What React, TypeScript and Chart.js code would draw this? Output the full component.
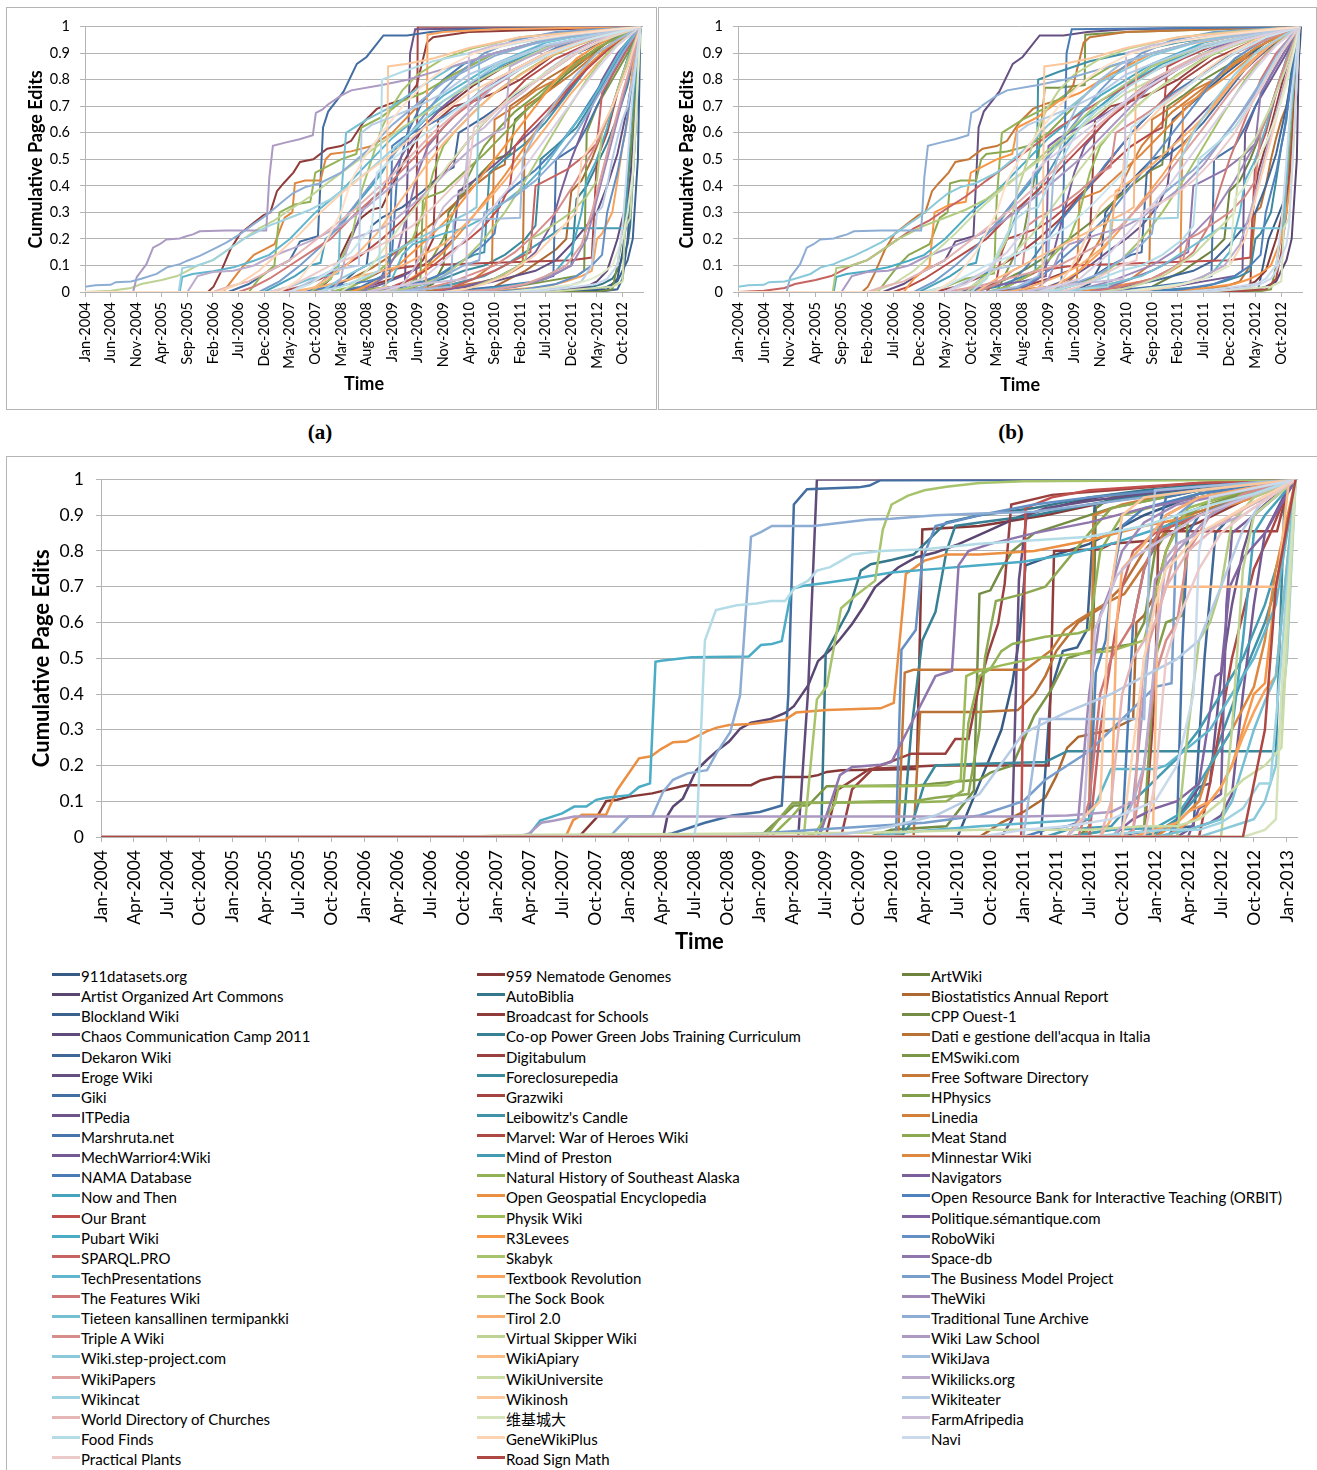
import { useEffect, useRef } from 'react';
import { Chart, registerables } from 'chart.js';
Chart.register(...registerables);

// ---------------- tick labels ----------------
const AB_TICK_LABELS = ['Jan-2004','Jun-2004','Nov-2004','Apr-2005','Sep-2005','Feb-2006','Jul-2006','Dec-2006','May-2007','Oct-2007','Mar-2008','Aug-2008','Jan-2009','Jun-2009','Nov-2009','Apr-2010','Sep-2010','Feb-2011','Jul-2011','Dec-2011','May-2012','Oct-2012'];
const C_TICK_LABELS = ['Jan-2004','Apr-2004','Jul-2004','Oct-2004','Jan-2005','Apr-2005','Jul-2005','Oct-2005','Jan-2006','Apr-2006','Jul-2006','Oct-2006','Jan-2007','Apr-2007','Jul-2007','Oct-2007','Jan-2008','Apr-2008','Jul-2008','Oct-2008','Jan-2009','Apr-2009','Jul-2009','Oct-2009','Jan-2010','Apr-2010','Jul-2010','Oct-2010','Jan-2011','Apr-2011','Jul-2011','Oct-2011','Jan-2012','Apr-2012','Jul-2012','Oct-2012','Jan-2013'];
const Y_TICK_LABELS = ['0','0.1','0.2','0.3','0.4','0.5','0.6','0.7','0.8','0.9','1'];

// ---------------- panels (a) & (b): [month since Jan-2004, value, ...] ----------------
const P01 = [0,0.02, 2,0.025, 5,0.027, 6,0.037, 9,0.04, 11,0.05, 14,0.068, 16,0.093, 18.5,0.105, 20,0.118, 22.4,0.136, 25,0.161, 27.6,0.186, 30.2,0.217, 32.8,0.254, 34.7,0.279, 36.7,0.31, 38.6,0.341, 40.6,0.372, 43.2,0.397, 45.8,0.409, 50,0.45, 55,0.53, 60,0.63, 65,0.71, 70,0.79, 80,0.89, 90,0.95, 100,0.98, 108.5,1];
const P02 = [0,0, 9.4,0, 10.1,0.056, 12,0.105, 13.3,0.167, 14.6,0.18, 15.9,0.198, 18.5,0.202, 19.8,0.21, 21.1,0.217, 22.4,0.229, 27.6,0.232, 35.4,0.232, 36,0.43, 36.7,0.551, 39.3,0.564, 41.9,0.576, 44.5,0.591, 45.1,0.675, 46.4,0.688, 47.4,0.706, 50,0.74, 52,0.76, 58,0.78, 63,0.8, 70,0.84, 80,0.9, 90,0.95, 100,0.98, 108.5,1];
const P03 = [0,0, 5,0.005, 9,0.015, 11,0.03, 15,0.045, 18,0.06, 20,0.08, 22,0.1, 25,0.12, 28,0.16, 31,0.2, 34,0.24, 37,0.27, 40,0.31, 44,0.36, 48,0.42, 55,0.52, 62,0.62, 70,0.72, 80,0.83, 90,0.92, 100,0.97, 108.5,1];
const P04 = [0,0, 18.5,0, 19,0.056, 21,0.068, 25,0.078, 29,0.093, 33,0.118, 36,0.14, 40,0.2, 45,0.3, 50,0.38, 55,0.48, 60,0.58, 65,0.66, 70,0.74, 80,0.86, 90,0.94, 100,0.98, 108.5,1];
const P05 = [0,0, 18.3,0, 19,0.09, 22,0.1, 25,0.12, 28,0.16, 31,0.2, 33,0.22, 36,0.25, 40,0.28, 44,0.31, 48,0.35, 55,0.45, 62,0.57, 70,0.72, 80,0.85, 90,0.93, 100,0.97, 108.5,1];
const P06 = [0,0, 20,0, 22,0.06, 25,0.075, 29,0.08, 33,0.1, 36,0.13, 40,0.16, 45,0.2, 50,0.25, 55,0.32, 60,0.4, 66,0.5, 72,0.62, 80,0.78, 90,0.9, 100,0.97, 108.5,1];
const P07 = [0,0, 24,0, 25.1,0.02, 26.4,0.07, 28.4,0.16, 30.3,0.22, 32.9,0.26, 34.9,0.29, 36.2,0.3, 37.5,0.38, 38.8,0.41, 40.7,0.45, 42,0.49, 44.6,0.5, 47.3,0.54, 50,0.55, 52,0.57, 54.4,0.64, 57,0.69, 59.6,0.71, 62.9,0.73, 64.8,0.78, 66.8,0.94, 68,0.96, 75,0.98, 108.5,1];
const P08 = [0,0, 27,0, 29,0.05, 31,0.1, 33,0.14, 35,0.16, 37,0.18, 39,0.28, 40.5,0.3, 41,0.41, 43,0.42, 46,0.42, 47,0.5, 48,0.52, 52,0.53, 56,0.55, 60,0.6, 65,0.7, 70,0.8, 80,0.9, 90,0.95, 100,0.98, 108.5,1];
const P09 = [0,0, 28,0, 32,0.03, 36,0.08, 40,0.12, 42,0.19, 45.5,0.21, 46.5,0.62, 47.5,0.68, 50.5,0.755, 53.1,0.86, 55,0.886, 58.3,0.967, 62.9,0.967, 67.5,0.98, 75,0.99, 108.5,1];
const P10 = [0,0, 55,0, 60,0.01, 62.5,0.03, 63,0.45, 63.5,0.9, 64.5,0.99, 108.5,1];
const P11 = [0,0, 55,0, 58.8,0.02, 59.2,0.85, 63,0.86, 68,0.88, 75,0.92, 85,0.96, 108.5,1];
const P12 = [0,0, 26,0, 30,0.03, 34,0.08, 38,0.15, 42,0.22, 46,0.3, 50,0.37, 55,0.45, 60,0.52, 65,0.6, 70,0.68, 75,0.75, 80,0.8, 90,0.9, 100,0.96, 108.5,1];
const P13 = [0,0, 30,0, 33,0.02, 36,0.05, 40,0.1, 44,0.15, 48,0.2, 52,0.28, 56,0.35, 60,0.42, 64,0.5, 68,0.58, 72,0.66, 78,0.75, 85,0.84, 92,0.91, 100,0.96, 108.5,1];
const P14 = [0,0, 32,0, 34,0.05, 37,0.1, 38,0.3, 41,0.33, 44,0.34, 45,0.45, 50,0.5, 53,0.52, 54,0.62, 58,0.66, 62,0.72, 66,0.75, 72,0.82, 80,0.9, 90,0.95, 100,0.98, 108.5,1];
const P15 = [0,0, 35,0, 38,0.03, 41,0.06, 44,0.1, 46,0.11, 47,0.2, 50,0.25, 53,0.33, 56,0.4, 58,0.45, 61,0.55, 64,0.6, 67,0.66, 70,0.7, 75,0.78, 82,0.86, 90,0.92, 100,0.97, 108.5,1];
const P16 = [0,0, 40,0, 44,0.04, 48,0.08, 53.5,0.1, 54,0.6, 56,0.63, 60,0.66, 65,0.7, 70,0.75, 75,0.82, 80,0.86, 90,0.93, 100,0.97, 108.5,1];
const P17 = [0,0, 38,0, 42,0.02, 46,0.05, 50,0.09, 54,0.14, 58,0.2, 62,0.27, 66,0.36, 70,0.45, 74,0.55, 78,0.64, 82,0.72, 86,0.8, 92,0.88, 100,0.95, 108.5,1];
const P18 = [0,0, 42,0, 48,0.02, 55,0.04, 59.5,0.06, 60,0.55, 62,0.58, 66,0.62, 70,0.66, 75,0.72, 80,0.8, 86,0.86, 92,0.92, 100,0.97, 108.5,1];
const P19 = [0,0, 44,0, 47,0.05, 50,0.12, 52,0.2, 54,0.3, 56,0.35, 58,0.38, 60,0.45, 63,0.55, 66,0.62, 70,0.7, 75,0.78, 80,0.85, 88,0.92, 100,0.97, 108.5,1];
const P20 = [0,0, 46,0, 50,0.05, 55,0.1, 60,0.15, 65,0.2, 70,0.25, 75,0.3, 76.5,0.32, 77,0.88, 80,0.9, 86,0.93, 95,0.96, 108.5,1];
const P21 = [0,0, 48,0, 52,0.02, 56,0.06, 60,0.12, 64,0.2, 66,0.3, 68,0.45, 70,0.55, 72,0.6, 76,0.68, 80,0.75, 85,0.82, 90,0.88, 96,0.93, 102,0.97, 108.5,1];
const P22 = [0,0, 50,0, 55,0.02, 60,0.05, 64,0.08, 66,0.12, 68,0.2, 69,0.65, 72,0.7, 76,0.72, 80,0.75, 85,0.8, 92,0.9, 100,0.96, 108.5,1];
const P23 = [0,0, 52,0, 56,0.03, 60,0.08, 64,0.15, 68,0.22, 72,0.3, 76,0.4, 80,0.5, 84,0.6, 88,0.7, 92,0.8, 96,0.88, 100,0.93, 104,0.97, 108.5,1];
const P24 = [0,0, 55,0, 60,0.02, 70,0.04, 74.5,0.05, 75,0.9, 80,0.93, 90,0.96, 100,0.98, 108.5,1];
const P25 = [0,0, 60,0, 66,0.01, 71.5,0.02, 72,0.27, 85,0.28, 85.5,0.5, 88,0.6, 92,0.72, 96,0.82, 100,0.9, 104,0.95, 108.5,1];
const P26 = [0,0, 56,0, 62,0.01, 66,0.03, 70,0.06, 74,0.12, 78,0.2, 82,0.3, 86,0.42, 90,0.55, 94,0.68, 98,0.8, 102,0.9, 105,0.95, 108.5,1];
const P27 = [0,0, 62,0, 66,0.01, 72,0.03, 78,0.06, 82,0.1, 86,0.15, 90,0.2, 93,0.24, 105.5,0.24, 106.5,0.6, 108.5,1];
const P28 = [0,0, 100,0, 103,0.01, 104,0.1, 105,0.22, 106.5,0.5, 108.5,1];
const P29 = [0,0, 95,0, 102,0.01, 104,0.05, 105,0.15, 106,0.3, 107,0.55, 108.5,1];
const P30 = [0,0, 90,0, 103,0.02, 105,0.04, 105.5,0.24, 106.5,0.28, 107.5,0.6, 108.5,1];
const P31 = [0,0, 60,0, 64,0.02, 68,0.05, 72,0.1, 76,0.14, 78,0.15, 79,0.45, 82,0.5, 86,0.56, 90,0.64, 94,0.74, 98,0.84, 102,0.92, 108.5,1];
const P32 = [0,0, 64,0, 68,0.02, 72,0.04, 76,0.07, 80,0.1, 84,0.15, 88,0.22, 92,0.3, 96,0.42, 100,0.56, 103,0.7, 106,0.85, 108.5,1];
const P33 = [0,0, 66,0, 72,0.02, 78,0.04, 82,0.06, 85.5,0.1, 86,0.7, 90,0.75, 95,0.82, 100,0.9, 104,0.95, 108.5,1];
const P34 = [0,0, 68,0, 74,0.02, 80,0.05, 85,0.1, 88,0.15, 91,0.25, 93,0.38, 95,0.5, 97,0.6, 99,0.7, 101,0.8, 104,0.9, 108.5,1];
const P35 = [0,0, 70,0, 80,0.02, 88,0.04, 91.5,0.06, 92,0.5, 96,0.55, 98,0.62, 100,0.7, 103,0.82, 106,0.92, 108.5,1];
const P36 = [0,0, 72,0, 80,0.01, 86,0.03, 90,0.06, 94,0.1, 97,0.18, 99,0.3, 101,0.45, 103,0.6, 105,0.75, 107,0.88, 108.5,1];
const P37 = [0,0, 76,0, 84,0.02, 90,0.05, 95,0.1, 98,0.2, 100,0.35, 102,0.5, 104,0.65, 106,0.8, 108.5,1];
const P38 = [0,0, 40,0, 43,0.01, 46,0.02, 50,0.04, 54,0.06, 58,0.08, 62,0.1, 66,0.14, 70,0.18, 74,0.25, 78,0.33, 82,0.42, 86,0.52, 90,0.62, 95,0.75, 100,0.86, 104,0.93, 108.5,1];
const P39 = [0,0, 50,0, 60,0.02, 65.5,0.04, 66,0.35, 70,0.38, 74,0.45, 78,0.52, 82,0.6, 86,0.68, 90,0.76, 95,0.85, 100,0.92, 108.5,1];
const P40 = [0,0, 45,0, 50,0.02, 54,0.05, 57.5,0.08, 58,0.8, 62,0.83, 68,0.87, 75,0.9, 85,0.94, 95,0.97, 108.5,1];
const P41 = [0,0, 34,0, 38,0.04, 42,0.1, 46,0.17, 50,0.26, 54,0.36, 58,0.46, 62,0.56, 66,0.66, 70,0.76, 74,0.84, 78,0.9, 84,0.95, 92,0.98, 108.5,1];
const P42 = [0,0, 36,0, 40,0.02, 44,0.05, 49.5,0.07, 50,0.35, 51,0.6, 55,0.65, 60,0.7, 66,0.78, 72,0.85, 80,0.9, 90,0.95, 100,0.98, 108.5,1];
const P43 = [0,0, 70,0, 78,0.01, 84,0.02, 90,0.04, 96,0.06, 97.5,0.08, 98,0.6, 100,0.7, 103,0.8, 106,0.9, 108.5,1];
const P44 = [0,0, 58,0, 62,0.03, 66,0.08, 70,0.15, 74,0.24, 78,0.34, 82,0.44, 86,0.55, 90,0.66, 94,0.76, 98,0.85, 102,0.92, 108.5,1];
const P45 = [0,0, 80,0, 86,0.01, 92,0.03, 96,0.06, 99,0.1, 101,0.14, 102,0.3, 104,0.45, 105.5,0.6, 107,0.8, 108.5,1];
const P46 = [0,0, 50,0, 54,0.04, 58,0.08, 65,0.1, 80,0.11, 95,0.12, 99,0.13, 100,0.5, 102,0.6, 104,0.75, 106,0.88, 108.5,1];
const P47 = [0,0, 54,0, 58,0.05, 61,0.15, 63,0.3, 65,0.45, 67,0.55, 70,0.62, 74,0.7, 78,0.76, 84,0.84, 90,0.9, 98,0.95, 108.5,1];
const P48 = [0,0, 62,0, 70,0.02, 76,0.05, 79.5,0.1, 80,0.65, 84,0.7, 88,0.76, 92,0.8, 96,0.86, 100,0.9, 104,0.95, 108.5,1];
const P49 = [0,0, 74,0, 82,0.02, 88,0.04, 92,0.08, 95,0.15, 97,0.3, 98,0.42, 100,0.5, 102,0.62, 104,0.76, 106,0.88, 108.5,1];
const P50 = [0,0, 25,0, 28,0.02, 32,0.04, 36,0.08, 40,0.12, 44,0.18, 48,0.24, 52,0.3, 56,0.37, 60,0.44, 64,0.52, 68,0.6, 74,0.7, 80,0.8, 88,0.88, 96,0.94, 108.5,1];
const P51 = [0,0, 44,0, 48,0.05, 52,0.2, 54,0.38, 56,0.5, 58,0.62, 60,0.7, 62,0.76, 65,0.82, 70,0.88, 76,0.92, 85,0.96, 95,0.98, 108.5,1];
const P52 = [0,0, 48,0, 54,0.02, 58,0.06, 60,0.15, 61,0.45, 63,0.6, 66,0.72, 70,0.8, 74,0.86, 80,0.9, 88,0.94, 98,0.97, 108.5,1];
const P53 = [0,0, 38,0, 42,0.05, 46,0.15, 50,0.3, 52,0.42, 55,0.52, 58,0.6, 62,0.7, 66,0.78, 70,0.84, 76,0.9, 84,0.94, 94,0.97, 108.5,1];
const P54 = [0,0, 58,0, 66,0.05, 72,0.15, 78,0.28, 84,0.42, 90,0.58, 96,0.74, 100,0.84, 104,0.93, 108.5,1];
const P55 = [0,0, 86,0, 92,0.01, 96,0.02, 100,0.03, 102,0.05, 104,0.1, 105,0.25, 106,0.5, 107,0.75, 108.5,1];
const P56 = [0,0, 42,0, 45,0.02, 48,0.06, 51,0.1, 54,0.16, 57,0.22, 60,0.3, 63,0.38, 66,0.46, 70,0.56, 75,0.66, 80,0.75, 86,0.83, 92,0.9, 100,0.96, 108.5,1];
const P57 = [0,0, 46,0, 50,0.03, 53,0.08, 55,0.1, 56,0.25, 58,0.28, 62,0.32, 66,0.38, 70,0.45, 72,0.47, 73,0.6, 78,0.66, 84,0.74, 90,0.82, 96,0.9, 102,0.95, 108.5,1];
const P58 = [0,0, 50,0, 53,0.04, 56,0.1, 59,0.18, 62,0.26, 65,0.33, 68,0.4, 71,0.48, 74,0.55, 77,0.62, 80,0.68, 84,0.75, 88,0.8, 94,0.88, 100,0.94, 108.5,1];
const P59 = [0,0, 52,0, 55,0.01, 58,0.03, 62,0.06, 66,0.1, 70,0.16, 72,0.2, 73,0.38, 76,0.42, 80,0.48, 84,0.55, 88,0.62, 92,0.7, 96,0.8, 100,0.88, 104,0.95, 108.5,1];
const P60 = [0,0, 56,0, 60,0.02, 64,0.05, 68,0.1, 72,0.16, 75,0.2, 78,0.25, 81,0.32, 83,0.4, 84,0.55, 86,0.6, 90,0.68, 94,0.76, 98,0.84, 102,0.91, 108.5,1];
const P61 = [0,0, 58,0, 62,0.01, 66,0.03, 70,0.05, 74,0.08, 78,0.1, 82,0.14, 86,0.2, 88,0.25, 89,0.5, 92,0.55, 96,0.62, 100,0.74, 104,0.88, 108.5,1];
const P62 = [0,0, 44,0, 48,0.02, 52,0.05, 56,0.09, 60,0.14, 64,0.2, 68,0.26, 72,0.33, 76,0.4, 80,0.46, 82,0.48, 83,0.7, 86,0.74, 90,0.8, 96,0.87, 102,0.94, 108.5,1];
const P63 = [0,0, 60,0, 64,0.04, 67,0.1, 70,0.2, 72,0.3, 74,0.4, 76,0.48, 78,0.55, 81,0.62, 84,0.68, 88,0.74, 92,0.8, 96,0.86, 100,0.92, 108.5,1];
const P64 = [0,0, 62,0, 66,0.02, 70,0.06, 74,0.1, 77,0.12, 78,0.3, 80,0.32, 84,0.36, 88,0.42, 92,0.5, 96,0.6, 99,0.7, 102,0.8, 105,0.9, 108.5,1];
const P65 = [0,0, 66,0, 70,0.01, 75,0.02, 80,0.04, 84,0.06, 88,0.08, 92,0.12, 95,0.18, 98,0.25, 100,0.3, 102,0.4, 104,0.52, 106,0.7, 108.5,1];
const P66 = [0,0, 68,0, 72,0.02, 76,0.05, 80,0.08, 84,0.12, 87,0.15, 88,0.4, 90,0.42, 94,0.46, 98,0.52, 100,0.56, 101,0.75, 104,0.85, 108.5,1];
const P67 = [0,0, 74,0, 78,0.01, 82,0.02, 86,0.03, 90,0.05, 93,0.08, 95,0.1, 96,0.35, 98,0.4, 100,0.48, 102,0.56, 104,0.66, 106,0.78, 108.5,1];
const P68 = [0,0, 78,0, 84,0.01, 90,0.02, 94,0.04, 97,0.06, 99,0.08, 100,0.2, 101,0.22, 103,0.3, 104,0.42, 105,0.55, 106,0.65, 107,0.85, 108.5,1];
const P69 = [0,0, 82,0, 88,0.01, 92,0.02, 96,0.03, 99,0.05, 101,0.07, 103,0.1, 104,0.15, 105,0.2, 106,0.3, 107,0.45, 108.5,1];
const P70 = [0,0, 54,0, 58,0.01, 62,0.02, 66,0.04, 70,0.07, 74,0.12, 78,0.18, 80,0.22, 81,0.35, 84,0.4, 88,0.46, 92,0.54, 96,0.64, 100,0.76, 104,0.88, 108.5,1];
const P71 = [0,0, 48,0, 50,0.05, 51,0.15, 52,0.2, 55,0.22, 58,0.24, 61,0.28, 64,0.33, 68,0.4, 72,0.48, 76,0.55, 80,0.6, 82,0.62, 83,0.85, 86,0.88, 92,0.93, 100,0.97, 108.5,1];
const P72 = [0,0, 40,0, 44,0.03, 48,0.08, 50,0.12, 52,0.15, 54,0.2, 56,0.24, 57,0.45, 60,0.5, 64,0.56, 68,0.62, 72,0.68, 78,0.76, 84,0.83, 90,0.89, 98,0.95, 108.5,1];
const P73 = [0,0, 36,0, 40,0.02, 44,0.06, 48,0.1, 52,0.13, 56,0.16, 60,0.2, 64,0.25, 68,0.32, 72,0.4, 75,0.46, 76,0.62, 80,0.68, 85,0.75, 90,0.82, 96,0.9, 102,0.96, 108.5,1];
const P74 = [0,0, 64,0, 68,0.03, 70,0.1, 71,0.3, 73,0.35, 76,0.42, 80,0.5, 83,0.52, 84,0.65, 87,0.7, 90,0.75, 94,0.82, 98,0.88, 102,0.94, 108.5,1];
const P75 = [0,0, 70,0, 74,0.01, 78,0.03, 82,0.06, 85,0.1, 88,0.14, 91,0.2, 94,0.26, 96,0.3, 97,0.5, 100,0.58, 103,0.7, 106,0.85, 108.5,1];
const P76 = [0,0, 84,0, 90,0.01, 94,0.02, 97,0.04, 99,0.1, 100,0.3, 101,0.32, 102,0.4, 103,0.5, 104,0.58, 105,0.65, 106,0.7, 107,0.8, 108.5,1];
const P77 = [0,0, 88,0, 94,0.01, 98,0.02, 100,0.04, 102,0.08, 103,0.14, 104,0.2, 105,0.28, 106,0.35, 107,0.5, 108.5,1];
const P78 = [0,0, 57,0, 60,0.05, 62,0.14, 64,0.18, 67,0.2, 70,0.22, 74,0.24, 78,0.28, 82,0.34, 86,0.4, 90,0.48, 93,0.56, 96,0.64, 99,0.72, 102,0.82, 105,0.92, 108.5,1];
const P79 = [0,0, 45,0, 48,0.05, 50,0.14, 52,0.22, 54,0.28, 56,0.31, 58,0.32, 60,0.4, 62,0.48, 64,0.55, 66,0.62, 69,0.68, 72,0.72, 76,0.78, 82,0.85, 90,0.92, 100,0.97, 108.5,1];
const P80 = [0,0, 76,0, 80,0.02, 83,0.05, 86,0.08, 89,0.12, 92,0.16, 94,0.2, 95,0.38, 97,0.42, 99,0.5, 101,0.6, 103,0.7, 105,0.82, 107,0.92, 108.5,1];
const P81 = [0,0, 60,0, 62,0.03, 64,0.08, 66,0.15, 68,0.24, 70,0.32, 72,0.36, 74,0.38, 75,0.58, 78,0.62, 82,0.7, 86,0.76, 90,0.83, 95,0.9, 100,0.95, 108.5,1];
const P82 = [0,0, 90,0, 95,0.01, 99,0.02, 101,0.03, 103,0.05, 104,0.08, 105,0.13, 106,0.18, 106.5,0.25, 107.5,0.6, 108.5,1];
const P83 = [0,0, 92,0, 96,0.005, 100,0.01, 102,0.02, 104,0.04, 105,0.08, 106,0.12, 107,0.2, 108,0.5, 108.5,1];
const P84 = [0,0, 72,0, 76,0.02, 80,0.05, 84,0.09, 86,0.12, 87,0.2, 89,0.22, 92,0.26, 95,0.3, 98,0.36, 100,0.42, 101,0.6, 103,0.7, 105,0.82, 108.5,1];
// only in (a)
const AX1 = [0,0, 58,0, 62,0.01, 64.7,0.02, 65,1, 108.5,1];
const AX2 = [0,0, 60,0, 64,0.01, 66.6,0.02, 66.9,0.97, 70,0.98, 80,0.99, 108.5,1];
const AX3 = [0,0, 100,0, 104,0.01, 105,0.05, 106,0.2, 107,0.5, 108,0.9, 108.5,1];
// only in (b)
const BX1 = [0,0, 99.9,0, 100.5,0.006, 101.9,0.14, 102.5,0.197, 104.4,0.289, 106.4,0.387, 107,0.547, 108.6,0.93, 108.8,1];
const BX2 = [0,0, 50,0, 55,0.2, 58,0.5, 59.3,0.77, 62,0.77, 67,0.78, 67.1,0.97, 75,0.98, 108.5,1];
const BX3 = [0,0, 96,0, 98,0.005, 99,0.01, 99.5,0.3, 100.5,0.45, 102,0.55, 104,0.7, 106,0.85, 108.5,1];

// ---------------- panel (c) ----------------
const WIKI_NAMES = [
  '911datasets.org', '959 Nematode Genomes', 'ArtWiki',
  'Artist Organized Art Commons', 'AutoBiblia', 'Biostatistics Annual Report',
  'Blockland Wiki', 'Broadcast for Schools', 'CPP Ouest-1',
  'Chaos Communication Camp 2011', 'Co-op Power Green Jobs Training Curriculum', "Dati e gestione dell'acqua in Italia",
  'Dekaron Wiki', 'Digitabulum', 'EMSwiki.com',
  'Eroge Wiki', 'Foreclosurepedia', 'Free Software Directory',
  'Giki', 'Grazwiki', 'HPhysics',
  'ITPedia', "Leibowitz's Candle", 'Linedia',
  'Marshruta.net', 'Marvel: War of Heroes Wiki', 'Meat Stand',
  'MechWarrior4:Wiki', 'Mind of Preston', 'Minnestar Wiki',
  'NAMA Database', 'Natural History of Southeast Alaska', 'Navigators',
  'Now and Then', 'Open Geospatial Encyclopedia', 'Open Resource Bank for Interactive Teaching (ORBIT)',
  'Our Brant', 'Physik Wiki', 'Politique.sémantique.com',
  'Pubart Wiki', 'R3Levees', 'RoboWiki',
  'SPARQL.PRO', 'Skabyk', 'Space-db',
  'TechPresentations', 'Textbook Revolution', 'The Business Model Project',
  'The Features Wiki', 'The Sock Book', 'TheWiki',
  'Tieteen kansallinen termipankki', 'Tirol 2.0', 'Traditional Tune Archive',
  'Triple A Wiki', 'Virtual Skipper Wiki', 'Wiki Law School',
  'Wiki.step-project.com', 'WikiApiary', 'WikiJava',
  'WikiPapers', 'WikiUniversite', 'Wikilicks.org',
  'Wikincat', 'Wikinosh', 'Wikiteater',
  'World Directory of Churches', '维基城大', 'FarmAfripedia',
  'Food Finds', 'GeneWikiPlus', 'Navi',
  'Practical Plants', 'Road Sign Math',
];
const W00 = [0,0, 78,0, 80,0.15, 82,0.3, 83,0.43, 83.6,0.55, 84.2,0.76, 86,0.78, 88,0.8, 90,0.82, 95,0.9, 100,0.96, 108.8,1];
const W01 = [0,0, 43.5,0, 45.1,0.053, 46,0.1, 47,0.104, 48.1,0.113, 50.2,0.122, 52.1,0.136, 53.3,0.145, 59.2,0.145, 60.1,0.159, 61.4,0.168, 64.4,0.168, 65.3,0.173, 66.1,0.182, 67.4,0.187, 74.3,0.19, 74.8,0.86, 80,0.87, 86,0.9, 92,0.94, 100,0.97, 108.8,1];
const W02 = [0,0, 89,0, 90,0.03, 90.6,0.92, 92,0.95, 100,0.98, 108.8,1];
const W03 = [0,0, 51.2,0, 51.6,0.06, 52.1,0.085, 53,0.108, 54.2,0.186, 55.2,0.216, 56.1,0.241, 57.2,0.267, 58.2,0.303, 59.2,0.32, 61,0.33, 62.3,0.347, 63.1,0.366, 64.4,0.424, 65.3,0.492, 66.4,0.523, 67.3,0.553, 68.4,0.596, 69.4,0.642, 70.5,0.699, 72.6,0.754, 74.2,0.782, 76,0.796, 78.1,0.819, 80.8,0.856, 83.8,0.898, 86.5,0.92, 89,0.939, 92,0.957, 100,0.98, 108.8,1];
const W04 = [0,0, 65.2,0, 65.6,0.02, 66,0.514, 68.1,0.634, 69.2,0.745, 70.1,0.763, 72,0.775, 74,0.79, 76,0.85, 77,0.88, 80,0.9, 85,0.92, 90,0.95, 95,0.97, 100,0.985, 108.8,1];
const W05 = [0,0, 80,0, 82,0.04, 84,0.07, 86,0.11, 87,0.17, 88,0.25, 89,0.28, 92,0.3, 94,0.33, 94.3,0.6, 95,0.62, 96,0.68, 97,0.8, 98,0.87, 100,0.9, 104,0.96, 108.8,1];
const W06 = [0,0, 85.6,0, 86.5,0.41, 87.6,0.52, 88.9,0.53, 89.8,0.58, 90.5,0.93, 93,0.95, 100,0.975, 108.8,1];
const W07 = [0,0, 66,0, 67,0.13, 70,0.19, 76,0.2, 86.3,0.2, 86.8,0.8, 91,0.805, 92,0.82, 96,0.83, 100,0.88, 104,0.94, 108.8,1];
const W08 = [0,0, 70,0, 72,0.02, 77,0.03, 79.5,0.13, 80,0.68, 81,0.69, 82,0.75, 83,0.8, 85,0.85, 88,0.88, 92,0.92, 100,0.97, 108.8,1];
const W09 = [0,0, 63.5,0, 64.4,0.41, 64.9,0.78, 65.2,1, 108.8,1];
const W10 = [0,0, 73,0, 73.8,0.3, 74.8,0.55, 76,0.63, 77,0.8, 77.8,0.87, 80,0.88, 85,0.9, 90,0.93, 100,0.98, 108.8,1];
const W11 = [0,0, 74,0, 74.6,0.35, 80,0.35, 83.5,0.355, 85,0.4, 86,0.45, 87,0.52, 88,0.56, 89,0.6, 91,0.64, 93,0.7, 95,0.8, 97,0.87, 100,0.92, 104,0.96, 108.8,1];
const W12 = [0,0, 92,0, 96,0.02, 99.5,0.03, 100.5,0.5, 101.5,0.85, 103,0.9, 106,0.95, 108.8,1];
const W13 = [0,0, 67.4,0, 68.4,0.133, 70.2,0.188, 71,0.2, 73.8,0.233, 76.9,0.233, 77.8,0.274, 79,0.274, 79.9,0.413, 80.8,0.514, 81.7,0.597, 82.3,0.708, 82.9,0.93, 86.6,0.957, 92,0.97, 100,0.99, 108.8,1];
const W14 = [0,0, 60,0, 63.1,0.088, 64.4,0.088, 66.1,0.142, 74.5,0.145, 76,0.15, 78,0.155, 80,0.16, 81,0.18, 83,0.2, 85,0.34, 86.5,0.41, 88,0.5, 90,0.52, 92,0.53, 94,0.54, 95,0.6, 96,0.8, 98,0.9, 104,0.96, 108.8,1];
const W15 = [0,0, 82,0, 83,0.05, 83.6,0.72, 84.3,0.9, 86,0.92, 90,0.94, 100,0.98, 108.8,1];
const W16 = [0,0, 70,0, 73,0.005, 74,0.05, 75,0.15, 76,0.2, 80,0.205, 86,0.21, 88,0.24, 107,0.24, 107.8,0.95, 108.8,1];
const W17 = [0,0, 72.6,0, 73.2,0.46, 74,0.468, 84.2,0.468, 86.6,0.524, 87.8,0.58, 89,0.607, 90.5,0.635, 92,0.662, 93.2,0.68, 95,0.76, 97,0.86, 99,0.9, 104,0.95, 108.8,1];
const W18 = [0,0, 50,0, 52,0.01, 55,0.04, 57.5,0.06, 60,0.07, 62,0.088, 62.6,0.4, 63.1,0.93, 64.3,0.973, 69,0.978, 70,0.983, 71,0.998, 108.8,1];
const W19 = [0,0, 95,0, 96,0.4, 96.3,0.855, 107.1,0.855, 108.3,1];
const W20 = [0,0, 88,0, 92,0.02, 95,0.03, 96,0.5, 96.5,0.55, 97,0.6, 98.5,0.62, 99,0.9, 101,0.94, 105,0.97, 108.8,1];
const W21 = [0,0, 96,0, 98,0.05, 100,0.14, 101,0.15, 102,0.45, 103,0.65, 104,0.8, 105,0.9, 106,0.93, 108.8,1];
const W22 = [0,0, 94,0, 96,0.01, 98,0.05, 100,0.12, 102,0.28, 104,0.45, 106,0.6, 107,0.7, 108.8,1];
const W23 = [0,0, 89.5,0, 90,0.03, 90.4,0.9, 93,0.93, 96,0.95, 100,0.97, 108.8,1];
const W24 = [0,0, 97,0, 98,0.03, 98.5,0.55, 99,0.85, 100,0.9, 104,0.95, 108.8,1];
const W25 = [0,0, 100,0, 101,0.15, 103,0.5, 105,0.75, 106.5,0.85, 108.5,1];
const W26 = [0,0, 60.5,0, 62,0.06, 63,0.096, 66,0.096, 71,0.1, 74,0.1, 76,0.11, 79,0.12, 80,0.3, 80.5,0.5, 81.5,0.66, 84,0.68, 86,0.7, 90,0.85, 92,0.92, 100,0.97, 108.8,1];
const W27 = [0,0, 98,0, 99,0.02, 101,0.04, 102,0.06, 103,0.12, 104,0.4, 105,0.65, 106,0.85, 108.5,1];
const W28 = [0,0, 86,0, 88,0.02, 92,0.03, 94,0.1, 96,0.16, 98,0.22, 100,0.3, 102,0.4, 104,0.5, 106,0.65, 107.5,0.8, 108.8,1];
const W29 = [0,0, 96,0, 98,0.04, 100,0.1, 101,0.2, 103,0.3, 105,0.42, 106,0.55, 107,0.75, 108.8,1];
const W30 = [0,0, 92,0, 93,0.01, 93.5,0.3, 94,0.6, 95,0.75, 96,0.82, 97,0.95, 100,0.97, 108.8,1];
const W31 = [0,0, 61,0, 63,0.06, 64,0.095, 71,0.097, 75,0.098, 77,0.1, 78.5,0.13, 79,0.32, 80,0.45, 81,0.47, 82,0.52, 83,0.54, 86,0.56, 89,0.57, 90,0.58, 91,0.8, 93,0.9, 100,0.96, 108.8,1];
const W32 = [0,0, 99,0, 100,0.08, 101,0.1, 102,0.12, 102.5,0.65, 103,0.85, 105,0.9, 108.8,1];
const W33 = [0,0, 88,0, 90,0.01, 92,0.02, 96,0.025, 98,0.06, 100,0.15, 102,0.25, 103,0.3, 104,0.55, 105,0.85, 106,0.9, 108.8,1];
const W34 = [0,0, 42.3,0, 43,0.047, 43.8,0.062, 46,0.062, 47,0.131, 49,0.22, 50.1,0.226, 51,0.246, 52.1,0.265, 53.3,0.267, 54.2,0.28, 55.2,0.296, 56.1,0.306, 57.2,0.313, 59.2,0.316, 62.3,0.328, 63.3,0.348, 66.1,0.355, 71,0.36, 72.2,0.375, 73,0.634, 73.3,0.736, 75,0.773, 77,0.79, 80,0.79, 85,0.8, 90,0.83, 95,0.87, 100,0.9, 105,0.95, 108.8,1];
const W35 = [0,0, 84,0, 86,0.02, 88,0.03, 90,0.05, 90.6,0.46, 91.5,0.55, 92,0.7, 93,0.87, 95,0.92, 100,0.96, 108.8,1];
const W36 = [0,0, 83.8,0, 84.2,0.92, 86.6,0.95, 90,0.97, 100,0.99, 108.8,1];
const W37 = [0,0, 64,0, 65,0.01, 66.8,0.09, 67.2,0.142, 73,0.142, 77,0.145, 78.3,0.16, 78.8,0.45, 79.5,0.46, 82,0.48, 85,0.5, 88,0.51, 92,0.52, 95,0.55, 97,0.8, 99,0.92, 104,0.97, 108.8,1];
const W38 = [0,0, 92,0, 94,0.05, 96,0.08, 98,0.1, 100,0.15, 101.5,0.45, 102,0.46, 102.8,0.7, 104,0.78, 106,0.85, 108.8,1];
const W39 = [0,0, 37,0, 39,0.006, 40,0.046, 42,0.066, 43.1,0.085, 44.2,0.085, 45.1,0.104, 46,0.11, 48.1,0.117, 49,0.14, 50,0.15, 50.5,0.49, 51,0.493, 53.8,0.503, 59,0.505, 60.1,0.537, 61.1,0.54, 62,0.548, 62.9,0.694, 64,0.703, 66.1,0.711, 68.1,0.72, 70.2,0.731, 72,0.74, 76,0.75, 80,0.76, 84,0.77, 88,0.79, 92,0.82, 96,0.86, 100,0.9, 104,0.95, 108.8,1];
const W40 = [0,0, 97,0, 98,0.02, 100,0.06, 101,0.1, 102,0.14, 103,0.2, 104,0.3, 105,0.4, 106,0.43, 107,0.7, 108.8,1];
const W41 = [0,0, 72.4,0, 72.9,0.524, 74.2,0.579, 74.8,0.777, 76,0.87, 80,0.9, 85,0.93, 90,0.95, 100,0.98, 108.8,1];
const W42 = [0,0, 90,0, 91,0.3, 92,0.5, 93,0.7, 94,0.8, 96,0.85, 100,0.9, 108.8,1];
const W43 = [0,0, 64,0, 65.2,0.385, 66.1,0.422, 67.4,0.64, 68.6,0.672, 70.5,0.717, 71.2,0.86, 72,0.93, 73.5,0.955, 75,0.97, 77,0.98, 80,0.99, 84,0.995, 108.8,1];
const W44 = [0,0, 65.4,0, 67.3,0.173, 68.4,0.196, 71,0.202, 72,0.21, 74,0.33, 76,0.45, 77.5,0.465, 78.1,0.76, 79,0.8, 81,0.82, 85,0.85, 90,0.88, 95,0.92, 100,0.95, 108.8,1];
const W45 = [0,0, 70,0, 72,0.01, 76,0.02, 80,0.03, 85,0.04, 90,0.05, 92,0.19, 96,0.19, 97,0.2, 99,0.25, 101,0.3, 103,0.4, 105,0.5, 107,0.65, 108.8,1];
const W46 = [0,0, 94,0, 98,0.04, 99,0.07, 101,0.1, 102,0.14, 103,0.2, 104,0.28, 105,0.35, 106,0.41, 107,0.45, 108.8,1];
const W47 = [0,0, 52,0, 56,0.005, 60,0.01, 65,0.02, 70,0.03, 75,0.04, 80,0.06, 84,0.1, 86,0.16, 88,0.2, 90,0.24, 92,0.3, 94,0.36, 96,0.42, 97.5,0.43, 98,0.9, 100,0.95, 108.8,1];
const W48 = [0,0, 89,0, 90,0.1, 91,0.4, 92,0.5, 93,0.55, 94,0.6, 95,0.75, 96,0.83, 97,0.9, 100,0.95, 108.8,1];
const W49 = [0,0, 98,0, 99,0.3, 100,0.55, 101,0.6, 102,0.7, 103,0.88, 105,0.95, 108.8,1];
const W50 = [0,0, 88,0, 89,0.05, 90,0.4, 91,0.62, 92,0.7, 93,0.8, 95,0.88, 98,0.93, 108.8,1];
const W51 = [0,0, 96,0, 99,0.02, 101,0.04, 102,0.05, 103,0.1, 104,0.2, 105,0.3, 106,0.38, 107,0.45, 108.8,1];
const W52 = [0,0, 91,0, 92,0.05, 92.5,0.6, 93,0.75, 95,0.82, 97,0.9, 100,0.95, 108.8,1];
const W53 = [0,0, 46.3,0, 48.1,0.058, 50.2,0.058, 51.2,0.127, 52.1,0.16, 53.4,0.178, 55.2,0.187, 56.1,0.237, 57.3,0.293, 58.2,0.396, 59.2,0.84, 60.1,0.853, 61.1,0.87, 64.9,0.87, 69.9,0.888, 72,0.89, 76,0.9, 80,0.905, 85,0.91, 90,0.93, 95,0.95, 100,0.97, 108.8,1];
const W54 = [0,0, 93,0, 94,0.02, 95,0.2, 96,0.45, 97,0.55, 98,0.6, 99,0.8, 101,0.9, 104,0.96, 108.8,1];
const W55 = [0,0, 102,0, 103,0.3, 104,0.75, 105,0.9, 108.8,1];
const W56 = [0,0, 38,0, 39,0.01, 40.1,0.04, 41.3,0.046, 43.1,0.057, 84,0.057, 88,0.06, 92,0.07, 94,0.1, 95,0.4, 96,0.72, 98,0.8, 101,0.9, 104,0.95, 108.8,1];
const W57 = [0,0, 100,0, 102,0.02, 104,0.04, 105,0.05, 106,0.1, 107,0.2, 108,0.5, 108.8,1];
const W58 = [0,0, 95.8,0, 96.3,0.7, 107.1,0.7, 108.2,1];
const W59 = [0,0, 84,0, 85.5,0.33, 95,0.33, 95.5,0.8, 96,0.97, 100,0.98, 108.8,1];
const W60 = [0,0, 94,0, 94.5,0.3, 95,0.5, 96,0.6, 97,0.7, 98,0.82, 100,0.85, 102,0.88, 104,0.92, 108.8,1];
const W61 = [0,0, 33,0, 36,0.004, 40,0.006, 50,0.008, 60,0.01, 70,0.012, 80,0.02, 90,0.02, 95,0.03, 98,0.03, 100,0.05, 102,0.1, 104,0.16, 106,0.2, 107.5,0.25, 108.8,1];
const W62 = [0,0, 92,0, 93,0.03, 94,0.1, 95,0.2, 96,0.5, 97,0.78, 98,0.82, 100,0.85, 104,0.9, 108.8,1];
const W63 = [0,0, 90,0, 93,0.01, 97,0.02, 100,0.02, 102,0.04, 104,0.08, 105.5,0.15, 106.5,0.15, 107.5,0.5, 108.8,1];
const W64 = [0,0, 88,0, 89,0.04, 91,0.1, 91.5,0.45, 92,0.7, 93,0.9, 95,0.95, 100,0.97, 108.8,1];
const W65 = [0,0, 64,0, 68,0.01, 72,0.03, 76,0.06, 80,0.12, 84,0.29, 88,0.35, 92,0.4, 95,0.45, 97.9,0.496, 100,0.55, 102,0.7, 104,0.86, 106,0.95, 108.8,1];
const W66 = [0,0, 91,0, 92,0.1, 93,0.4, 94,0.5, 95,0.55, 96,0.6, 97,0.7, 99,0.8, 102,0.88, 108.8,1];
const W67 = [0,0, 104,0, 106,0.02, 107,0.05, 107.5,0.4, 108.8,1];
const W68 = [0,0, 88,0, 89.5,0.05, 90.5,0.58, 91.5,0.65, 92.5,0.73, 94,0.78, 96,0.82, 100,0.9, 108.8,1];
const W69 = [0,0, 54,0, 54.3,0.05, 55,0.55, 56,0.635, 57.9,0.648, 59.7,0.653, 61,0.66, 62.3,0.66, 63.2,0.697, 64.4,0.717, 65.2,0.745, 66.4,0.755, 68.4,0.79, 71,0.8, 75,0.805, 80,0.82, 85,0.83, 90,0.84, 95,0.87, 100,0.92, 105,0.96, 108.8,1];
const W70 = [0,0, 93,0, 94,0.25, 95,0.5, 96,0.65, 97,0.75, 98,0.78, 100,0.85, 104,0.92, 108.8,1];
const W71 = [0,0, 80,0, 84,0.02, 88,0.03, 92,0.05, 96,0.1, 98,0.2, 99.5,0.4, 100,0.8, 101,0.95, 108.8,1];
const W72 = [0,0, 95,0, 96,0.15, 97,0.5, 98,0.6, 100,0.75, 102,0.85, 104,0.9, 108.8,1];
const W73 = [0,0, 104,0, 106,0.3, 107,0.7, 108.8,1];

// ---------------- styles ----------------
const GRID = '#b4b4b4';
const FONT = 'Lato, "Noto Sans", sans-serif';
const ACCENT: Record<string, number[]> = {
  b: [79, 129, 189], r: [192, 80, 77], g: [155, 187, 89],
  p: [128, 100, 162], a: [75, 172, 198], o: [247, 150, 70],
};
const HUES = ['b', 'r', 'g', 'p', 'a', 'o'];
function levelOf(code: string) { return parseInt(code.slice(1), 10); }
function excelColor(code: string) {
  const hue = code[0];
  const lv = levelOf(code);
  const f = lv <= 6 ? -0.3 + 0.05 * lv : ((lv - 6) * 0.7) / 6;
  const c = ACCENT[hue].map((x) => Math.round(f < 0 ? x * (1 + f) : x + (255 - x) * f));
  return `rgb(${c[0]},${c[1]},${c[2]})`;
}
const A_SERIES = [P01,P02,P03,P04,P05,P06,P07,P08,P09,P10,P11,P12,P13,P14,P15,P16,P17,P18,P19,P20,P21,P22,P23,P24,P25,P26,P27,P28,P29,P30,P31,P32,P33,P34,P35,P36,P37,P38,P39,P40,P41,P42,P43,P44,P45,P46,P47,P48,P49,P50,P51,P52,P53,P54,P55,P56,P57,P58,P59,P60,P61,P62,P63,P64,P65,P66,P67,P68,P69,P70,P71,P72,P73,P74,P75,P76,P77,P78,P79,P80,P81,P82,P83,P84,AX1,AX2,AX3];
const A_COLOR_CODES = ['b9','p9','g9','a7','a10','p10','r1','o4','b3','p3','o10','o11','r8','g5','a5','b11','r5','b6','p6','a9','g6','r2','o6','p11','b10','g8','a4','g1','b0','g10','a3','r9','o2','p5','b4','r10','p8','o8','g4','a11','b8','a8','g2','o5','b7','r4','p7','o3','a6','r11','g7','b5','o12','p12','b12',
  'o9','b2','g11','p4','r6','a2','o1','g3','b9','p2','r7','a1','o7','g12','b6','p10','a12','r12','g0','o11','b11','p1','a7','r0','o0','p11','a0','b1','g8',
  'r3','o7','b1'];
const B_SERIES = [P01,P02,P03,P04,P05,P06,P07,P08,P09,P10,P11,P12,P13,P14,P15,P16,P17,P18,P19,P20,P21,P22,P23,P24,P25,P26,P27,P28,P29,P30,P31,P32,P33,P34,P35,P36,P37,P38,P39,P40,P41,P42,P43,P44,P45,P46,P47,P48,P49,P50,P51,P52,P53,P54,P55,P56,P57,P58,P59,P60,P61,P62,P63,P64,P65,P66,P67,P68,P69,P70,P71,P72,P73,P74,P75,P76,P77,P78,P79,P80,P81,P82,P83,P84,BX1,BX2,BX3];
const B_COLOR_CODES = ['a9','b9','r7','a6','g8','p9','o2','g4','p2','b5','o10','g10','r5','o6','a5','b11','r3','p6','a4','o9','g6','r2','b7','p11','a10','g7','a8','g3','r4','g11','b3','p8','o5','r8','b4','p10','o11','r10','o4','a3','b8','g5','p4','o7','b6','r6','p5','o3','a7','r11','g9','b10','o12','p12','b12',
  'g10','r9','b6','o8','p3','a11','g1','o3','r12','b2','p7','g12','a2','o6','b9','r5','p12','a12','b1','g10','o1','r0','p9','a11','g0','o11','b12','p0','r9',
  'b0','g2','r1'];
const C_SERIES = [W00,W01,W02,W03,W04,W05,W06,W07,W08,W09,W10,W11,W12,W13,W14,W15,W16,W17,W18,W19,W20,W21,W22,W23,W24,W25,W26,W27,W28,W29,W30,W31,W32,W33,W34,W35,W36,W37,W38,W39,W40,W41,W42,W43,W44,W45,W46,W47,W48,W49,W50,W51,W52,W53,W54,W55,W56,W57,W58,W59,W60,W61,W62,W63,W64,W65,W66,W67,W68,W69,W70,W71,W72,W73];
const C_COLORS = WIKI_NAMES.map((_, i) => {
  if (i === WIKI_NAMES.length - 1) return excelColor('r4');
  const slot = i < 31 ? i : i + 1;
  return excelColor(HUES[slot % 6] + Math.floor(slot / 6));
});

type PanelOpts = {
  series: number[][]; colors: string[]; orders: number[]; labels?: string[]; lineWidth: number;
  tickStep: number; tickLabels: string[]; tickFont: any; titleFont: any;
  yWidth: number; xHeight: number; padding: any;
  yTitlePad: number; xTitlePad: number; yTickPad: number; xTickPad: number;
};

function buildChart(canvas: HTMLCanvasElement, o: PanelOpts) {
  const datasets = o.series.map((arr, i) => {
    const data: { x: number; y: number }[] = [];
    for (let k = 0; k < arr.length; k += 2) data.push({ x: arr[k], y: arr[k + 1] });
    return {
      label: o.labels ? o.labels[i] : 'S' + i,
      data, borderColor: o.colors[i], backgroundColor: o.colors[i],
      borderWidth: o.lineWidth, pointRadius: 0, pointHoverRadius: 0,
      tension: 0, fill: false, order: o.orders[i],
    };
  });
  return new Chart(canvas, {
    type: 'line',
    data: { datasets } as any,
    options: {
      animation: false, responsive: false, maintainAspectRatio: false, events: [],
      layout: { padding: o.padding },
      plugins: { legend: { display: false }, tooltip: { enabled: false } },
      scales: {
        x: {
          type: 'linear', min: 0, max: 109,
          afterBuildTicks: (s: any) => { s.ticks = o.tickLabels.map((_, i) => ({ value: i * o.tickStep })); },
          afterFit: (s: any) => { s.height = o.xHeight; },
          ticks: {
            autoSkip: false, minRotation: 90, maxRotation: 90, padding: o.xTickPad,
            color: '#000', font: o.tickFont,
            callback: (_v: any, i: number) => o.tickLabels[i],
          },
          grid: { drawOnChartArea: false, drawTicks: true, tickLength: 5, color: GRID, lineWidth: 1 },
          border: { display: true, color: GRID, width: 1 },
          title: { display: true, text: 'Time', color: '#000', font: o.titleFont, padding: { top: 0, bottom: o.xTitlePad } },
        },
        y: {
          type: 'linear', min: 0, max: 1,
          afterBuildTicks: (s: any) => { s.ticks = Y_TICK_LABELS.map((_, i) => ({ value: i / 10 })); },
          afterFit: (s: any) => { s.width = o.yWidth; },
          ticks: { padding: o.yTickPad, color: '#000', font: o.tickFont, callback: (_v: any, i: number) => Y_TICK_LABELS[i] },
          grid: { drawTicks: true, tickLength: 5, color: GRID, lineWidth: 1 },
          border: { display: true, color: GRID, width: 1 },
          title: { display: true, text: 'Cumulative Page Edits', color: '#000', font: o.titleFont, padding: { top: o.yTitlePad, bottom: 0 } },
        },
      },
    } as any,
  });
}

const LEGEND_COL_X = [52, 477, 902];
const LEGEND_ROW_Y0 = 976;
const LEGEND_ROW_H = 20.125;

export default function App() {
  const refA = useRef<HTMLCanvasElement>(null);
  const refB = useRef<HTMLCanvasElement>(null);
  const refC = useRef<HTMLCanvasElement>(null);

  useEffect(() => {
    const smallTick = { family: FONT, size: 14.5 };
    const smallTitle = { family: FONT, size: 18, weight: 'bold' };
    // lighter shades are drawn on top (as in the original spreadsheet chart)
    const lightOnTop = (codes: string[]) => codes.map((c) => 20 - levelOf(c));
    const charts = [
      buildChart(refA.current!, {
        series: A_SERIES, colors: A_COLOR_CODES.map(excelColor), orders: lightOnTop(A_COLOR_CODES), lineWidth: 2,
        tickStep: 5, tickLabels: AB_TICK_LABELS, tickFont: smallTick, titleFont: smallTitle,
        yWidth: 78, xHeight: 117, padding: { top: 15, right: 13, left: 0, bottom: 0 },
        yTitlePad: 18, xTitlePad: 14, yTickPad: 10, xTickPad: 5,
      }),
      buildChart(refB.current!, {
        series: B_SERIES, colors: B_COLOR_CODES.map(excelColor), orders: lightOnTop(B_COLOR_CODES), lineWidth: 2,
        tickStep: 5, tickLabels: AB_TICK_LABELS, tickFont: smallTick, titleFont: smallTitle,
        yWidth: 79, xHeight: 117, padding: { top: 13, right: 14, left: 0, bottom: 0 },
        yTitlePad: 17, xTitlePad: 13, yTickPad: 10, xTickPad: 5,
      }),
      buildChart(refC.current!, {
        series: C_SERIES, colors: C_COLORS, orders: C_SERIES.map((_, i) => C_SERIES.length - i),
        labels: WIKI_NAMES, lineWidth: 2.5,
        tickStep: 3, tickLabels: C_TICK_LABELS,
        tickFont: { family: FONT, size: 17.5 }, titleFont: { family: FONT, size: 22, weight: 'bold' },
        yWidth: 94, xHeight: 120, padding: { top: 19, right: 15, left: 0, bottom: 0 },
        yTitlePad: 22, xTitlePad: 2, yTickPad: 12, xTickPad: 8,
      }),
    ];
    return () => charts.forEach((c) => c.destroy());
  }, []);

  const box = (l: number, t: number, w: number, h: number) => ({
    position: 'absolute' as const, left: l, top: t, width: w, height: h,
    border: '1px solid #b5b5b5', boxSizing: 'content-box' as const,
  });
  const abs = (l: number, t: number, w: number, h: number) => ({
    position: 'absolute' as const, left: l, top: t, width: w, height: h,
  });

  return (
    <div style={{ position: 'absolute', left: 0, top: 0, width: 1317, height: 1470, background: '#fff', overflow: 'hidden' }}>
      <div style={box(6, 7, 649, 401)} />
      <div style={box(658, 7, 657, 401)} />
      <div style={box(6, 456, 1320, 1030)} />
      <canvas ref={refA} width={649} height={401} style={abs(7, 8, 649, 401)} />
      <canvas ref={refB} width={657} height={401} style={abs(659, 8, 657, 401)} />
      <canvas ref={refC} width={1309} height={500} style={abs(7, 457, 1309, 500)} />
      <div style={{ ...abs(270, 419, 100, 26), textAlign: 'center', font: 'bold 21px "Liberation Serif", "Times New Roman", serif', lineHeight: '26px' }}>(a)</div>
      <div style={{ ...abs(961, 419, 100, 26), textAlign: 'center', font: 'bold 21px "Liberation Serif", "Times New Roman", serif', lineHeight: '26px' }}>(b)</div>
      {WIKI_NAMES.map((name, i) => {
        const row = Math.floor(i / 3);
        const col = i % 3;
        const cy = LEGEND_ROW_Y0 + row * LEGEND_ROW_H;
        return (
          <div key={name} style={{ position: 'absolute', left: LEGEND_COL_X[col], top: cy - 10, height: 20, display: 'flex', alignItems: 'center', whiteSpace: 'nowrap' }}>
            <div style={{ width: 28, height: 3, background: C_COLORS[i], marginTop: -3 }} />
            <span style={{ marginLeft: 1, font: `15px ${FONT}, "Noto Sans CJK SC"`, color: '#000', lineHeight: '20px' }}>{name}</span>
          </div>
        );
      })}
    </div>
  );
}
